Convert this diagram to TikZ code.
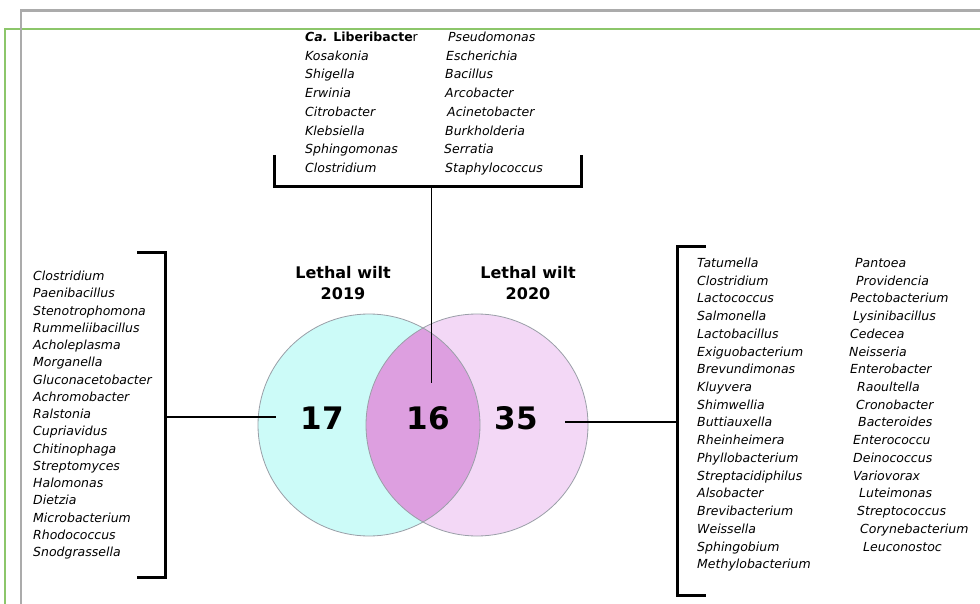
\documentclass[tikz,border=0pt]{standalone}
\usepackage{fontspec}
\setmainfont{DejaVu Sans}
\definecolor{framegray}{HTML}{ABABAB}
\definecolor{framegreen}{HTML}{8CC66A}
\definecolor{cyanfill}{HTML}{CCFBF8}
\definecolor{pinkfill}{HTML}{F3D8F6}
\definecolor{midfill}{HTML}{DD9FE0}
\definecolor{ringcol}{HTML}{9A9FA8}
\begin{document}
\begin{tikzpicture}[x=1pt,y=-1pt,
  item/.style={anchor=base west,inner sep=0pt,font=\fontsize{12.5}{15}\selectfont\itshape},
  bracketline/.style={line width=3pt,black},
  stub/.style={line width=1.5pt,black},
  title/.style={anchor=base,inner sep=0pt,font=\fontsize{16}{21}\selectfont\bfseries,align=center},
  count/.style={anchor=base,inner sep=0pt,font=\fontsize{31}{31}\selectfont\bfseries}]
\useasboundingbox (0,0) rectangle (980,604);
\fill[white] (0,0) rectangle (980,604);
% frame lines
\draw[framegreen,line width=1.3pt] (5,604) -- (5,29) -- (980,29);
\draw[framegray,line width=2.6pt] (21,604) -- (21,10.5) -- (980,10.5);
% circles
\coordinate (cL) at (369,425);
\coordinate (cR) at (477,425);
\fill[cyanfill] (cL) circle[radius=111];
\fill[pinkfill] (cR) circle[radius=111];
\begin{scope}
  \clip (cL) circle[radius=111];
  \fill[midfill] (cR) circle[radius=111];
\end{scope}
\draw[ringcol,line width=0.8pt] (cL) circle[radius=111];
\draw[ringcol,line width=0.8pt] (cR) circle[radius=111];
% titles
\node[title] (t2019) at (343,299) {Lethal wilt\\2019};
\node[title] (t2020) at (528,299) {Lethal wilt\\2020};
% counts
\node[count] (n17) at (322,429.5) {17};
\node[count] (n16) at (428,429.5) {16};
\node[count] (n35) at (516,429.5) {35};
% top list
\node[item,font=\fontsize{12.5}{15}\selectfont] (top1) at (305,41.5) {\textbf{\textit{Ca.} Liberibacte}r};
\foreach \nm [count=\i] in {Kosakonia,Shigella,Erwinia,Citrobacter,Klebsiella,Sphingomonas,Clostridium}
  \node[item] (topL\i) at (305,41.5+18.75*\i) {\nm};
\foreach \xx/\nm [count=\i from 0] in {448/Pseudomonas,446/Escherichia,445/Bacillus,445/Arcobacter,447/Acinetobacter,445/Burkholderia,444/Serratia,445/Staphylococcus}
  \node[item] (topR\i) at (\xx,41.5+18.75*\i) {\nm};
% left list
\foreach \nm [count=\i from 0] in {Clostridium,Paenibacillus,Stenotrophomona,Rummeliibacillus,Acholeplasma,Morganella,Gluconacetobacter,Achromobacter,Ralstonia,Cupriavidus,Chitinophaga,Streptomyces,Halomonas,Dietzia,Microbacterium,Rhodococcus,Snodgrassella}
  \node[item] (left\i) at (33,280.5+17.25*\i) {\nm};
% right list
\foreach \nm [count=\i from 0] in {Tatumella,Clostridium,Lactococcus,Salmonella,Lactobacillus,Exiguobacterium,Brevundimonas,Kluyvera,Shimwellia,Buttiauxella,Rheinheimera,Phyllobacterium,Streptacidiphilus,Alsobacter,Brevibacterium,Weissella,Sphingobium,Methylobacterium}
  \node[item] (rightL\i) at (697,267.5+17.72*\i) {\nm};
\foreach \xx/\nm [count=\i from 0] in {855/Pantoea,856/Providencia,850/Pectobacterium,853/Lysinibacillus,850/Cedecea,849/Neisseria,850/Enterobacter,857/Raoultella,856/Cronobacter,858/Bacteroides,853/Enterococcu,853/Deinococcus,853/Variovorax,859/Luteimonas,857/Streptococcus,860/Corynebacterium,863/Leuconostoc}
  \node[item] (rightR\i) at (\xx,267.5+17.72*\i) {\nm};
% brackets
\coordinate (topBk) at (431.5,187);
\coordinate (leftBk) at (165,417);
\coordinate (rightBk) at (677,422);
\draw[bracketline] (274,155) -- (274,187) -- (581,187) -- (581,155);
\draw[bracketline] (137,253) -- (165,253) -- (165,577) -- (137,577);
\draw[bracketline] (706,247) -- (677,247) -- (677,595) -- (706,595);
% connectors
\coordinate (topEnd) at (431.5,383);
\coordinate (leftEnd) at (276,417);
\coordinate (rightEnd) at (565,422);
\draw[stub] (topBk) -- (topEnd);
\draw[stub] (leftBk) -- (leftEnd);
\draw[stub] (rightBk) -- (rightEnd);
\end{tikzpicture}
\end{document}
